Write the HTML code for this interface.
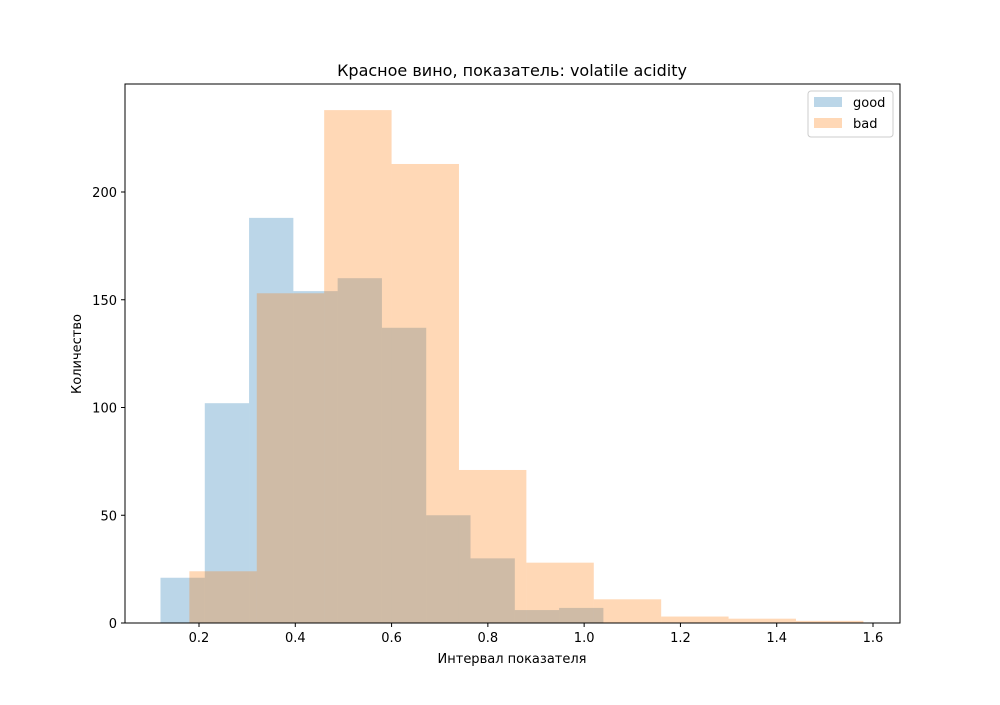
<!DOCTYPE html>
<html><head><meta charset="utf-8"><style>
body{margin:0;background:#fff;font-family:"Liberation Sans","DejaVu Sans",sans-serif;}
</style></head><body>
<svg width="1000" height="700" xmlns="http://www.w3.org/2000/svg" font-family="DejaVu Sans, Liberation Sans, sans-serif">
<rect width="1000" height="700" fill="#fff"/>
<g id="bars"></g>
<rect x="125" y="84" width="775" height="539" fill="none" stroke="#000" stroke-width="1"/>
<g id="xticks" font-size="13" text-anchor="middle"></g>
<g id="yticks" font-size="13" text-anchor="end"></g>
<text x="512" y="76" font-size="16" text-anchor="middle">Красное вино, показатель: volatile acidity</text>
<text x="512" y="663" font-size="13" text-anchor="middle">Интервал показателя</text>
<text transform="translate(81,354) rotate(-90)" font-size="13" text-anchor="middle">Количество</text>
<g>
<rect x="808" y="91" width="85" height="46" rx="3" fill="#fff" fill-opacity="0.8" stroke="#ccc"/>
<g><rect x="814" y="97" width="28" height="10" fill="#1f77b4" fill-opacity="0.3"/><text x="853" y="107" font-size="13">good</text></g>
<g><rect x="814" y="118" width="28" height="10" fill="#ff7f0e" fill-opacity="0.3"/><text x="853" y="128" font-size="13">bad</text></g>
</g>
</svg>
<script>
const goodEdges=[0.12,0.212,0.304,0.396,0.488,0.58,0.672,0.764,0.856,0.948,1.04];
const goodCounts=[21,102,188,154,160,137,50,30,6,7];
const badEdges=[0.18,0.32,0.46,0.60,0.74,0.88,1.02,1.16,1.30,1.44,1.58];
const badCounts=[24,153,238,213,71,28,11,3,2,1];
const xTicks=[0.2,0.4,0.6,0.8,1.0,1.2,1.4,1.6];
const yTicks=[0,50,100,150,200];
const NS="http://www.w3.org/2000/svg";
const X=v=>199+(v-0.2)*481.43;
const Y=v=>623-v*2.155;
const bars=document.getElementById('bars');
function draw(edges,counts,color,name){
 counts.forEach((c,i)=>{
  const r=document.createElementNS(NS,'rect');
  r.setAttribute('x',X(edges[i]));r.setAttribute('width',X(edges[i+1])-X(edges[i]));
  r.setAttribute('y',Y(c));r.setAttribute('height',Y(0)-Y(c));
  r.setAttribute('fill',color);r.setAttribute('fill-opacity','0.3');
  
  
  bars.appendChild(r);
 });
}
draw(goodEdges,goodCounts,'#1f77b4','good');
draw(badEdges,badCounts,'#ff7f0e','bad');
const xt=document.getElementById('xticks');
xTicks.forEach(v=>{
 const l=document.createElementNS(NS,'line');
 l.setAttribute('x1',X(v));l.setAttribute('x2',X(v));l.setAttribute('y1',623);l.setAttribute('y2',627);l.setAttribute('stroke','#000');
 
 
 xt.appendChild(l);
 const t=document.createElementNS(NS,'text');
 t.setAttribute('x',X(v));t.setAttribute('y',642);t.textContent=v.toFixed(1);
 
 
 xt.appendChild(t);
});
const yt=document.getElementById('yticks');
yTicks.forEach(v=>{
 const l=document.createElementNS(NS,'line');
 l.setAttribute('x1',121);l.setAttribute('x2',125);l.setAttribute('y1',Y(v));l.setAttribute('y2',Y(v));l.setAttribute('stroke','#000');
 
 
 yt.appendChild(l);
 const t=document.createElementNS(NS,'text');
 t.setAttribute('x',117);t.setAttribute('y',Y(v)+5);t.textContent=v;
 
 
 yt.appendChild(t);
});
</script>
</body></html>
